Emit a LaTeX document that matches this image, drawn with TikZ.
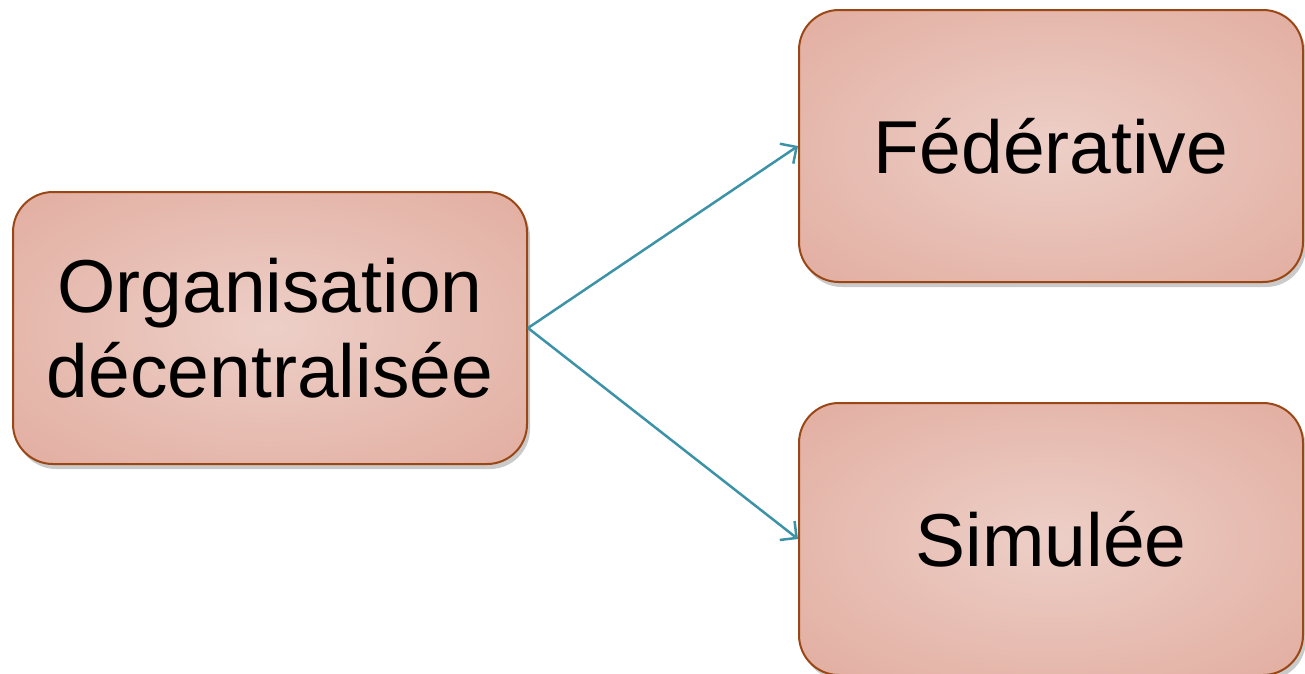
\documentclass[tikz,border=0pt]{standalone}
\usepackage{fontspec}
\setmainfont{Liberation Sans}
\usetikzlibrary{arrows.meta,shadows}
\definecolor{boxedge}{HTML}{9A4715}
\definecolor{boxin}{HTML}{EDCFC7}
\definecolor{boxout}{HTML}{E2ADA0}
\definecolor{arrowc}{HTML}{3C93A8}
\pgfdeclareradialshading{boxshade}{\pgfpoint{0bp}{0bp}}{%
  color(0bp)=(boxin); color(36bp)=(boxout); color(50bp)=(boxout)}
\tikzset{
  box/.style={draw=boxedge, line width=2pt, rounded corners=40pt,
    shading=boxshade,
    drop shadow={shadow xshift=3pt, shadow yshift=-5pt, opacity=0.35, fill=black!60},
    minimum height=272pt, align=center,
    font=\fontsize{75pt}{85pt}\selectfont},
  link/.style={draw=arrowc, line width=2.5pt, -{Straight Barb[length=12pt,width=24pt,line width=2.5pt]}}
}
\begin{document}
\begin{tikzpicture}[x=1pt,y=-1pt]
\useasboundingbox (0,0) rectangle (1305,673);
\node[box, minimum width=514pt] (org) at (270,328) {Organisation\\décentralisée};
\node[box, minimum width=504pt, text depth=0pt] (fed) at (1051,146) {Fédérative};
\node[box, minimum width=504pt, text depth=0pt] (sim) at (1051,539) {Simulée};
\draw[link] (org.east) -- (fed.west);
\draw[link] (org.east) -- (sim.west);
\end{tikzpicture}
\end{document}
